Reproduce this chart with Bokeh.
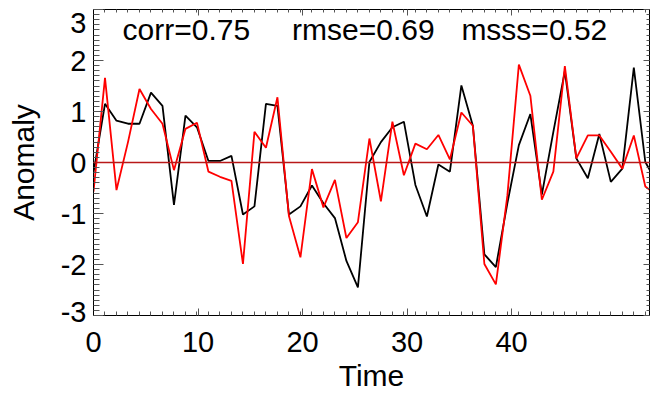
from bokeh.plotting import figure
from bokeh.models import (Range1d, LinearAxis, SingleIntervalTicker, FixedTicker,
                          Label, Span, CustomJSTickFormatter)
from bokeh.embed import file_html
from bokeh.resources import INLINE

# ---- data ----
time = [0.0, 1.1, 2.2, 3.3, 4.4, 5.5, 6.6, 7.7, 8.8, 9.9,
        11.0, 12.1, 13.2, 14.3, 15.4, 16.5, 17.6, 18.7, 19.8, 20.9,
        22.0, 23.1, 24.2, 25.3, 26.4, 27.5, 28.6, 29.7, 30.8, 31.9,
        33.0, 34.1, 35.2, 36.3, 37.4, 38.5, 39.6, 40.7, 41.8, 42.9,
        44.0, 45.1, 46.2, 47.3, 48.4, 49.5, 50.6, 51.7, 52.8, 53.9]
observed = [-0.20, 1.15, 0.82, 0.76, 0.76, 1.37, 1.11, -0.83, 0.92, 0.69,
            0.03, 0.03, 0.13, -1.02, -0.86, 1.15, 1.11, -1.02, -0.86, -0.45,
            -0.80, -1.09, -1.93, -2.45, 0.01, 0.40, 0.69, 0.80, -0.44, -1.06,
            -0.04, -0.18, 1.51, 0.72, -1.80, -2.05, -0.80, 0.34, 0.95, -0.63,
            0.60, 1.79, 0.08, -0.31, 0.56, -0.38, -0.12, 1.86, 0.01, -0.39]
forecast = [-0.57, 1.66, -0.54, 0.40, 1.44, 1.05, 0.76, -0.15, 0.66, 0.78,
            -0.18, -0.28, -0.36, -1.99, 0.60, 0.29, 1.28, -1.05, -1.86, -0.13,
            -0.88, -0.34, -1.48, -1.17, 0.47, -0.76, 0.80, -0.25, 0.37, 0.26,
            0.54, 0.06, 0.98, 0.72, -1.99, -2.39, -0.65, 1.92, 1.31, -0.73,
            -0.18, 1.89, 0.08, 0.53, 0.53, 0.21, -0.12, 0.53, -0.47, -0.65]
x_ticks = [0, 10, 20, 30, 40]
y_ticks = [-3, -2, -1, 0, 1, 2, 3]
y_tick_labels = ["-3", "-2", "-1", "0", "1", "2", "3"]
stat_texts = ["corr=0.75", "rmse=0.69", "msss=0.52"]
x_label = "Time"
y_label = "Anomaly"

FONT = "Liberation Sans"

p = figure(width=652, height=394,
           x_range=Range1d(0, 53.2), y_range=Range1d(-3, 3),
           output_backend="svg", toolbar_location=None,
           min_border_left=93, min_border_right=3, min_border_top=9,
           min_border_bottom=76)
p.grid.visible = False
p.outline_line_color = "black"
p.outline_line_width = 1
p.background_fill_color = "white"
p.border_fill_color = "white"

TICK = "#555555"

# main axes
xax = p.xaxis[0]
yax = p.yaxis[0]
xax.ticker = FixedTicker(ticks=x_ticks, minor_ticks=time)
yax.ticker = SingleIntervalTicker(interval=1, num_minor_ticks=10)
for ax in (xax, yax):
    ax.major_tick_out = 0
    ax.minor_tick_out = 0
    ax.axis_line_color = "black"
    ax.major_tick_line_color = TICK
    ax.minor_tick_line_color = TICK
    ax.major_label_text_font = FONT
    ax.major_label_text_font_size = "29px"
    ax.major_label_text_color = "black"
    ax.axis_label_text_font = FONT
    ax.axis_label_text_font_size = "30px"
    ax.axis_label_text_font_style = "normal"
    ax.axis_label_text_color = "black"
xax.major_tick_in = 7
xax.minor_tick_in = 4
yax.major_tick_in = 10
yax.minor_tick_in = 6
xax.axis_label = x_label
yax.axis_label = y_label
xax.major_label_standoff = 16
yax.major_label_standoff = 7
xax.axis_label_standoff = 4
yax.axis_label_standoff = 18
# plain hyphen labels; the edge labels sit a little inside the box
overrides = dict(zip(y_ticks, y_tick_labels))
overrides[3] = " \n" + overrides[3]
overrides[-3] = overrides[-3] + "\n "
yax.major_label_overrides = overrides
yax.major_label_text_line_height = 0.2

# box axes (top / right) with ticks only
blank = CustomJSTickFormatter(code="return ''")
top = LinearAxis(ticker=FixedTicker(ticks=x_ticks, minor_ticks=time),
                 formatter=blank)
right = LinearAxis(ticker=SingleIntervalTicker(interval=1, num_minor_ticks=10),
                   formatter=blank)
for ax in (top, right):
    ax.major_label_standoff = 0
    ax.major_tick_out = 0
    ax.minor_tick_out = 0
    ax.major_tick_in = 6
    ax.minor_tick_in = 3
    ax.axis_line_color = "black"
    ax.major_tick_line_color = TICK
    ax.minor_tick_line_color = TICK
p.add_layout(top, "above")
p.add_layout(right, "right")

# zero line
p.add_layout(Span(location=0, dimension="width", line_color="#b81818",
                  line_width=1.4))

# series
p.line(time, observed, line_color="black", line_width=1.8)
p.line(time, forecast, line_color="#ff0000", line_width=1.8)

# statistics annotations
for txt, xs in zip(stat_texts, [2.78, 19.0, 35.2]):
    p.add_layout(Label(x=xs, y=2.6, text=txt, text_font=FONT,
                       text_font_size="30px", text_color="black",
                       text_baseline="alphabetic", text_align="left"))

open("out.html", "w").write(file_html(p, INLINE))
